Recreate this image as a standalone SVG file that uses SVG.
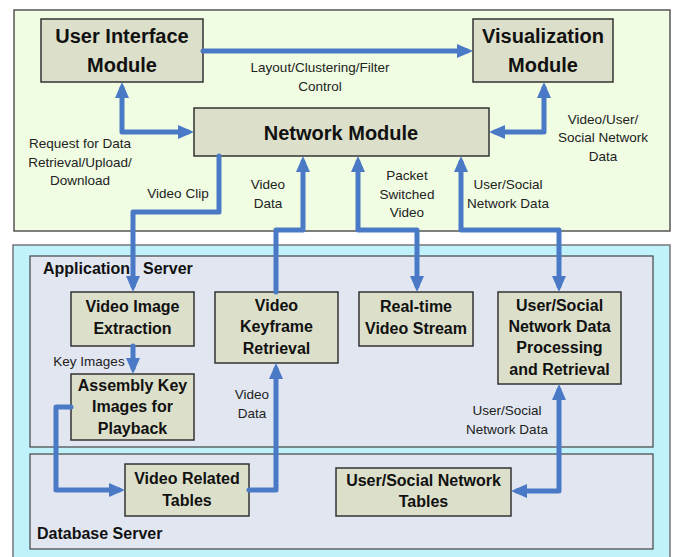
<svg xmlns="http://www.w3.org/2000/svg" width="675" height="557" viewBox="0 0 675 557">
<style>
.node{fill:#dcdfc9;stroke:#333;stroke-width:1.5}
.big{font-family:"Liberation Sans",Arial,sans-serif;font-weight:bold;font-size:20px;fill:#111;text-anchor:middle}
.nt{font-family:"Liberation Sans",Arial,sans-serif;font-weight:bold;font-size:16px;fill:#111;text-anchor:middle}
.lbl{font-family:"Liberation Sans",Arial,sans-serif;font-size:13.5px;fill:#222;text-anchor:middle}
.srv{font-family:"Liberation Sans",Arial,sans-serif;font-weight:bold;font-size:16px;fill:#111}
.c{fill:none;stroke:#4a7ac6;stroke-width:5;stroke-linejoin:round;stroke-linecap:round}
</style>
<defs>
<marker id="ah" markerUnits="userSpaceOnUse" viewBox="0 0 16 14" refX="10" refY="7" markerWidth="16" markerHeight="14" orient="auto-start-reverse">
<path d="M0,0 L16,7 L0,14 z" fill="#4a7ac6"/>
</marker>
</defs>
<rect width="675" height="557" fill="#ffffff"/>
<g id="client-panel">
<rect x="14" y="10" width="656" height="221" fill="#f0fde2" stroke="#555" stroke-width="1.5"/>
</g>
<g id="server-panel">
<rect x="13" y="245" width="657" height="320" fill="#c0f2fc" stroke="#777" stroke-width="1.5"/>
</g>
<g id="app-server">
<rect x="30" y="256" width="623" height="191" fill="#e1e6f1" stroke="#444" stroke-width="1.2"/>
<text class="srv" x="43" y="274">Application</text>
<text class="srv" x="143" y="274">Server</text>
</g>
<g id="db-server">
<rect x="30" y="454" width="623" height="95" fill="#e1e6f1" stroke="#444" stroke-width="1.2"/>
<text class="srv" x="37" y="539">Database Server</text>
</g>
<g id="ui-module">
<rect class="node" x="41" y="19" width="162" height="63"/>
<text class="big" x="122" y="43">User Interface</text>
<text class="big" x="122" y="72">Module</text>
</g>
<g id="vis-module">
<rect class="node" x="473" y="19" width="140" height="63"/>
<text class="big" x="543" y="43">Visualization</text>
<text class="big" x="543" y="72">Module</text>
</g>
<g id="network-module">
<rect class="node" x="194" y="108" width="295" height="48"/>
<text class="big" x="341" y="140">Network Module</text>
</g>
<g id="video-image-extraction">
<rect class="node" x="71" y="292" width="123" height="54"/>
<text class="nt" x="132.5" y="312">Video Image</text>
<text class="nt" x="132.5" y="334">Extraction</text>
</g>
<g id="video-keyframe-retrieval">
<rect class="node" x="215" y="292" width="123" height="71"/>
<text class="nt" x="276.5" y="311">Video</text>
<text class="nt" x="276.5" y="332">Keyframe</text>
<text class="nt" x="276.5" y="354">Retrieval</text>
</g>
<g id="realtime-video-stream">
<rect class="node" x="359" y="292" width="114" height="54"/>
<text class="nt" x="416" y="312">Real-time</text>
<text class="nt" x="416" y="334">Video Stream</text>
</g>
<g id="user-social-processing">
<rect class="node" x="498" y="292" width="123" height="92"/>
<text class="nt" x="559.5" y="311">User/Social</text>
<text class="nt" x="559.5" y="332">Network Data</text>
<text class="nt" x="559.5" y="353">Processing</text>
<text class="nt" x="559.5" y="375">and Retrieval</text>
</g>
<g id="assembly-key-images">
<rect class="node" x="71" y="374" width="123" height="66"/>
<text class="nt" x="132.5" y="391">Assembly Key</text>
<text class="nt" x="132.5" y="412">Images for</text>
<text class="nt" x="132.5" y="434">Playback</text>
</g>
<g id="video-related-tables">
<rect class="node" x="125" y="464" width="124" height="52"/>
<text class="nt" x="187" y="484">Video Related</text>
<text class="nt" x="187" y="506">Tables</text>
</g>
<g id="user-social-tables">
<rect class="node" x="336" y="468" width="175" height="48"/>
<text class="nt" x="423.5" y="486">User/Social Network</text>
<text class="nt" x="423.5" y="507">Tables</text>
</g>
<g id="connectors">
<path class="c" d="M203,51 H467" marker-end="url(#ah)"/>
<path class="c" d="M122,88 V132 H188" marker-start="url(#ah)" marker-end="url(#ah)"/>
<path class="c" d="M544,88 V132 H495" marker-start="url(#ah)" marker-end="url(#ah)"/>
<path class="c" d="M219,156 V212 H133 V286" marker-end="url(#ah)"/>
<path class="c" d="M276,292 V230 H303 V162" marker-end="url(#ah)"/>
<path class="c" d="M358,162 V230 H417 V286" marker-start="url(#ah)" marker-end="url(#ah)"/>
<path class="c" d="M461,162 V230 H559 V286" marker-start="url(#ah)" marker-end="url(#ah)"/>
<path class="c" d="M133,346 V368" marker-end="url(#ah)"/>
<path class="c" d="M71,407 H56 V490 H119" marker-end="url(#ah)"/>
<path class="c" d="M249,490 H276 V369" marker-end="url(#ah)"/>
<path class="c" d="M559,390 V491 H517" marker-start="url(#ah)" marker-end="url(#ah)"/>
</g>
<g id="labels">
<text class="lbl" x="320" y="72">Layout/Clustering/Filter</text>
<text class="lbl" x="320" y="91">Control</text>
<text class="lbl" x="80" y="148">Request for Data</text>
<text class="lbl" x="80" y="167">Retrieval/Upload/</text>
<text class="lbl" x="80" y="185">Download</text>
<text class="lbl" x="603" y="124">Video/User/</text>
<text class="lbl" x="603" y="142">Social Network</text>
<text class="lbl" x="603" y="161">Data</text>
<text class="lbl" x="178" y="198">Video Clip</text>
<text class="lbl" x="268" y="189">Video</text>
<text class="lbl" x="268" y="208">Data</text>
<text class="lbl" x="407" y="180">Packet</text>
<text class="lbl" x="407" y="199">Switched</text>
<text class="lbl" x="407" y="217">Video</text>
<text class="lbl" x="508" y="189">User/Social</text>
<text class="lbl" x="508" y="208">Network Data</text>
<text class="lbl" x="89" y="366">Key Images</text>
<text class="lbl" x="252" y="399">Video</text>
<text class="lbl" x="252" y="418">Data</text>
<text class="lbl" x="507" y="415">User/Social</text>
<text class="lbl" x="507" y="434">Network Data</text>
</g>
</svg>
